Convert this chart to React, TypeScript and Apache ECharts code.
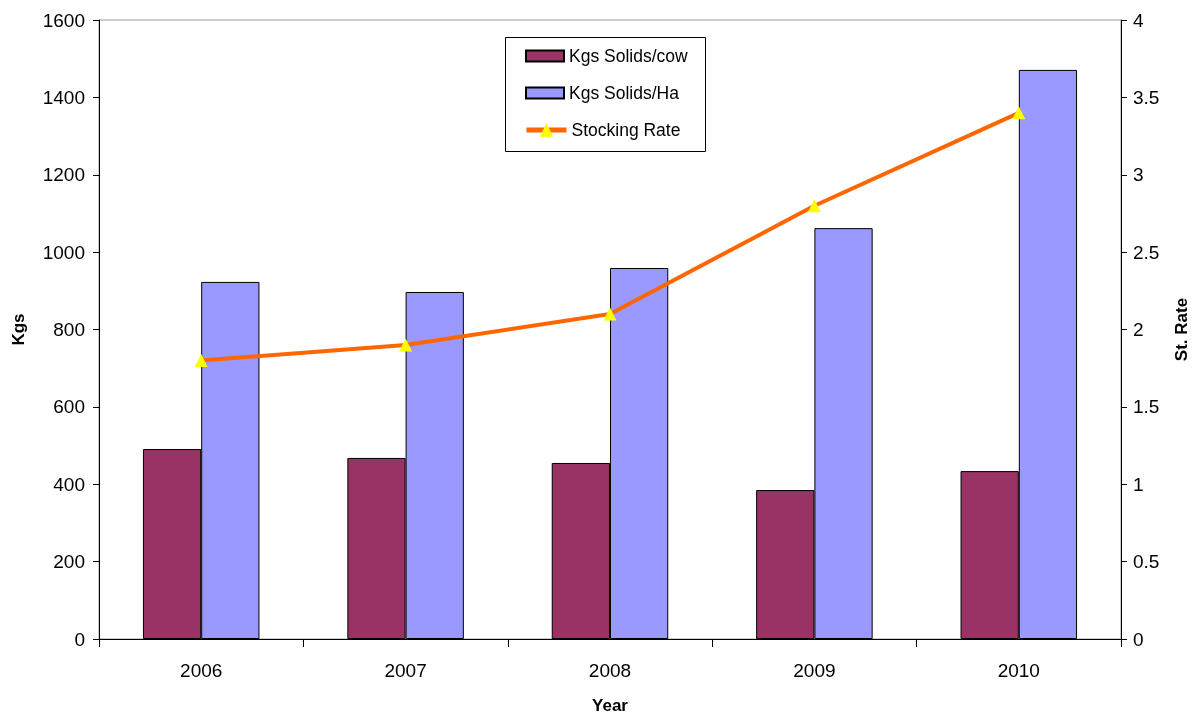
import React, { useEffect, useRef } from "react";
import * as echarts from "echarts";

const years = ["2006", "2007", "2008", "2009", "2010"];
const solidsPerCow = [491, 468, 455, 385, 434];
const solidsPerHa = [923, 897, 959, 1062, 1471];
const stockingRate = [1.8, 1.9, 2.1, 2.8, 3.4];

const FONT = "Liberation Sans, Arial, sans-serif";

const legendText = { fontFamily: FONT, fontSize: 17.5, color: "#000" };
const axisNameText = { fontFamily: FONT, fontSize: 17, fontWeight: "bold", color: "#000" };

export default function App() {
  const ref = useRef<HTMLDivElement>(null);

  useEffect(() => {
    if (!ref.current) return;
    const chart = echarts.init(ref.current, null, { renderer: "svg" });
    chart.setOption({
      animation: false,
      textStyle: { fontFamily: FONT, color: "#000" },
      grid: {
        left: 99,
        right: 80,
        top: 20,
        bottom: 77,
        outerBoundsMode: "none",
        containLabel: false,
        show: true,
        borderColor: "#999",
        borderWidth: 1,
      },
      graphic: [
        {
          type: "rect",
          left: 505,
          top: 37,
          shape: { width: 200, height: 114 },
          style: { fill: "#fff", stroke: "#000", lineWidth: 1 },
          z: 10,
        },
      ],
      legend: [
        {
          left: 525,
          top: 47,
          padding: 0,
          itemWidth: 38,
          itemHeight: 11,
          icon: "rect",
          itemStyle: { borderWidth: 2, borderColor: "#000" },
          textStyle: legendText,
          data: ["Kgs Solids/cow"],
          z: 11,
        },
        {
          left: 525,
          top: 84,
          padding: 0,
          itemWidth: 38,
          itemHeight: 11,
          icon: "rect",
          itemStyle: { borderWidth: 2, borderColor: "#000" },
          textStyle: legendText,
          data: ["Kgs Solids/Ha"],
          z: 11,
        },
        {
          left: 524,
          top: 121,
          padding: 0,
          itemWidth: 40,
          itemHeight: 17,
          lineStyle: { width: 5 },
          textStyle: legendText,
          data: ["Stocking Rate"],
          z: 11,
        },
      ],
      xAxis: {
        type: "category",
        data: years,
        name: "Year",
        nameLocation: "middle",
        nameGap: 58,
        nameTextStyle: axisNameText,
        axisLine: { lineStyle: { color: "#000", width: 1 } },
        axisTick: { show: true, length: 8, lineStyle: { color: "#000" } },
        axisLabel: { fontFamily: FONT, fontSize: 19, color: "#000", margin: 22 },
        splitLine: { show: false },
      },
      yAxis: [
        {
          type: "value",
          min: 0,
          max: 1600,
          interval: 200,
          name: "Kgs",
          nameLocation: "middle",
          nameGap: 72,
          nameTextStyle: axisNameText,
          axisLine: { show: true, lineStyle: { color: "#000", width: 1 } },
          axisTick: { show: true, length: 6, lineStyle: { color: "#000" } },
          axisLabel: {
            fontFamily: FONT,
            fontSize: 19,
            color: "#000",
            margin: 14,
            formatter: (v: number) => String(v),
          },
          splitLine: { show: false },
        },
        {
          type: "value",
          min: 0,
          max: 4,
          interval: 0.5,
          position: "right",
          name: "St. Rate",
          nameLocation: "middle",
          nameGap: 52,
          nameRotate: 90,
          nameTextStyle: axisNameText,
          axisLine: { show: true, lineStyle: { color: "#000", width: 1 } },
          axisTick: { show: true, length: 6, lineStyle: { color: "#000" } },
          axisLabel: { fontFamily: FONT, fontSize: 19, color: "#000", margin: 12 },
          splitLine: { show: false },
        },
      ],
      series: [
        {
          name: "Kgs Solids/cow",
          type: "bar",
          data: solidsPerCow,
          barGap: "0%",
          barCategoryGap: "43%",
          itemStyle: { color: "#993366", borderColor: "#000", borderWidth: 1 },
        },
        {
          name: "Kgs Solids/Ha",
          type: "bar",
          data: solidsPerHa,
          barGap: "0%",
          barCategoryGap: "43%",
          itemStyle: { color: "#9999FF", borderColor: "#000", borderWidth: 1 },
        },
        {
          name: "Stocking Rate",
          type: "line",
          yAxisIndex: 1,
          data: stockingRate,
          symbol: "triangle",
          symbolSize: 13,
          lineStyle: { color: "#FF6600", width: 4 },
          itemStyle: { color: "#FFFF00", borderWidth: 0 },
          z: 5,
        },
      ],
    });
    return () => chart.dispose();
  }, []);

  return (
    <div
      ref={ref}
      style={{ position: "fixed", left: 0, top: 0, width: 1201, height: 716 }}
    />
  );
}
